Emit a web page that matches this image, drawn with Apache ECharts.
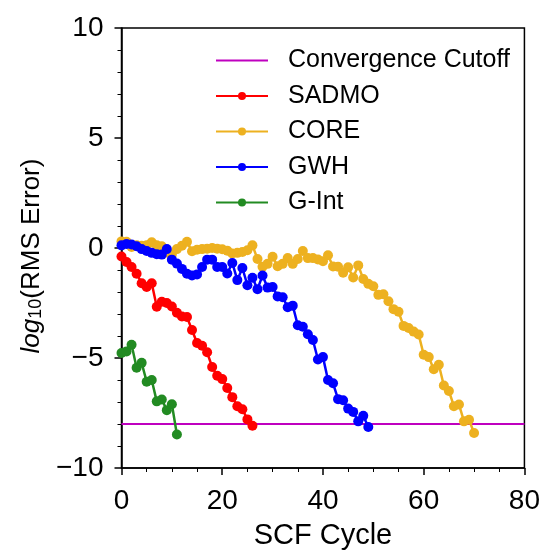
<!DOCTYPE html>
<html>
<head>
<meta charset="utf-8">
<script src="https://cdn.jsdelivr.net/npm/echarts@6/dist/echarts.min.js"></script>
<style>
  html, body { margin: 0; padding: 0; background: #fff; }
  #chart { width: 543px; height: 555px; }
</style>
</head>
<body>
<div id="chart"></div>
<script>
  // values, one per SCF cycle starting at 0
  var sadmo = [-0.39, -0.64, -0.86, -1.17, -1.6, -1.77, -1.6, -2.67, -2.44, -2.5,
    -2.66, -2.94, -3.11, -3.14, -3.73, -4.32, -4.44, -4.74, -5.41, -5.81,
    -5.96, -6.36, -6.78, -7.19, -7.33, -7.79, -8.08];
  var core = [0.3, 0.28, 0.05, 0.12, 0.1, 0.12, 0.26, 0.12, 0.08, -0.2,
    -0.3, -0.05, 0.1, 0.28, -0.15, -0.08, -0.05, -0.03, 0.0, -0.03,
    -0.06, -0.12, -0.25, -0.22, -0.18, -0.1, 0.12, -0.5, -0.85, -0.72,
    -0.4, -0.83, -0.72, -0.46, -0.72, -0.5, -0.14, -0.46, -0.46, -0.52,
    -0.6, -0.33, -0.84, -0.85, -1.12, -0.88, -1.34, -0.79, -1.41, -1.63,
    -1.74, -2.13, -2.1, -2.42, -2.78, -2.9, -3.54, -3.64, -3.8, -3.93,
    -4.85, -4.96, -5.51, -5.31, -6.25, -6.5, -7.19, -7.11, -7.88, -7.81, -8.41];
  var gwh = [0.12, 0.18, 0.16, 0.08, -0.05, -0.14, -0.22, -0.28, -0.3, -0.05,
    -0.53, -0.71, -0.95, -1.17, -1.25, -1.2, -0.86, -0.53, -0.53, -0.86,
    -0.86, -1.16, -0.68, -1.46, -0.91, -1.69, -1.35, -1.87, -1.25, -1.8,
    -1.77, -2.2, -2.24, -2.69, -2.62, -3.51, -3.58, -3.92, -4.18, -5.07,
    -4.96, -6.0, -6.15, -6.87, -6.92, -7.3, -7.45, -7.88, -7.63, -8.14];
  var gint = [-4.77, -4.7, -4.4, -5.44, -5.22, -6.08, -6.0, -6.97, -6.89, -7.37, -7.1, -8.48];
  var cutoff = -8;
  var xRange = [0, 80];

  var font = 'Liberation Sans';

  function pairs(arr) {
    return arr.map(function (v, i) { return [i, v]; });
  }

  function lineSeries(name, color, arr) {
    return {
      name: name,
      type: 'line',
      data: pairs(arr),
      symbol: 'circle',
      symbolSize: 10,
      color: color,
      lineStyle: { width: 2.5, color: color },
      itemStyle: { color: color },
      animation: false
    };
  }

  var chart = echarts.init(document.getElementById('chart'));
  var option = {
    backgroundColor: '#fff',
    grid: {
      left: 121.5, right: 18, top: 28, bottom: 79,
      show: true, borderColor: '#000', borderWidth: 1.5
    },
    legend: {
      orient: 'vertical',
      left: 215,
      top: 48,
      padding: 0,
      itemWidth: 52,
      itemHeight: 10,
      itemGap: 10.5,
      selectedMode: false,
      textStyle: { fontSize: 25, fontFamily: font, color: '#000', padding: [0, 0, 0, 15] },
      data: [
        { name: 'Convergence Cutoff', icon: 'path://M0,0H52V2H0Z' },
        'SADMO', 'CORE', 'GWH', 'G-Int'
      ]
    },
    xAxis: {
      type: 'value',
      min: xRange[0], max: xRange[1], interval: 20,
      name: 'SCF Cycle',
      nameLocation: 'middle',
      nameGap: 53,
      nameTextStyle: { fontSize: 29, fontFamily: font, color: '#000' },
      axisLine: { onZero: false, lineStyle: { color: '#000', width: 1.5 } },
      axisTick: { length: 7, lineStyle: { color: '#000', width: 1.5 } },
      minorTick: { show: true, splitNumber: 4, length: 4, lineStyle: { color: '#000', width: 1 } },
      splitLine: { show: false },
      axisLabel: { fontSize: 28, fontFamily: font, color: '#000', margin: 19 }
    },
    yAxis: {
      type: 'value',
      min: -10, max: 10, interval: 5,
      name: '{a|log}{b|10}{c|(RMS Error)}',
      nameLocation: 'middle',
      nameRotate: 90,
      nameGap: 76,
      nameTextStyle: {
        padding: [0, 16, 0, 0],
        rich: {
          a: { fontSize: 26, fontStyle: 'italic', fontFamily: font, color: '#000' },
          b: { fontSize: 18, fontFamily: font, color: '#000', verticalAlign: 'bottom' },
          c: { fontSize: 26, fontFamily: font, color: '#000' }
        }
      },
      axisLine: { show: true, onZero: false, lineStyle: { color: '#000', width: 1.5 } },
      axisTick: { show: true, length: 7, lineStyle: { color: '#000', width: 1.5 } },
      minorTick: { show: true, splitNumber: 5, length: 4, lineStyle: { color: '#000', width: 1 } },
      splitLine: { show: false },
      axisLabel: {
        fontSize: 28, fontFamily: font, color: '#000', margin: 18,
        formatter: function (v) { return String(v).replace('-', '\u2212'); }
      }
    },
    series: [
      {
        name: 'Convergence Cutoff',
        type: 'line',
        data: [[xRange[0], cutoff], [xRange[1], cutoff]],
        symbol: 'none',
        color: '#bf00bf',
        lineStyle: { width: 2, color: '#bf00bf' },
        animation: false
      },
      lineSeries('SADMO', '#ff0000', sadmo),
      lineSeries('CORE', '#edb120', core),
      lineSeries('GWH', '#0000ff', gwh),
      lineSeries('G-Int', '#228b22', gint)
    ]
  };
  chart.setOption(option);
</script>
</body>
</html>
